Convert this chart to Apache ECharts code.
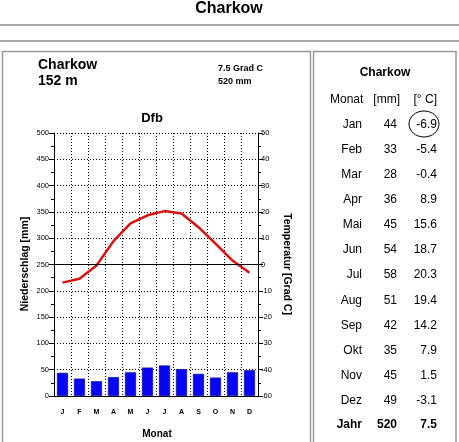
<!DOCTYPE html>
<html lang="de">
<head>
<meta charset="UTF-8"/>
<title>Charkow</title>
<script src="https://cdn.jsdelivr.net/npm/echarts@6/dist/echarts.min.js"></script>
<style>
  html, body { margin: 0; padding: 0; background: #fff; }
  #main { width: 459px; height: 442px; }
</style>
</head>
<body>
<div id="main"></div>
<script>
// Klimadaten Charkow
var station = 'Charkow';
var hoehe = '152 m';
var klima = 'Dfb';
var monatKurz = ['J', 'F', 'M', 'A', 'M', 'J', 'J', 'A', 'S', 'O', 'N', 'D'];
var monatName = ['Jan', 'Feb', 'Mar', 'Apr', 'Mai', 'Jun', 'Jul', 'Aug', 'Sep', 'Okt', 'Nov', 'Dez'];
var niederschlag = [44, 33, 28, 36, 45, 54, 58, 51, 42, 35, 45, 49];
var temperatur = [-6.9, -5.4, -0.4, 8.9, 15.6, 18.7, 20.3, 19.4, 14.2, 7.9, 1.5, -3.1];
var jahrMm = 520;
var jahrTemp = 7.5;

var font = 'Arial, "Liberation Sans", sans-serif';
var chart = echarts.init(document.getElementById('main'));

// Tabelle rechts
var tabelle = [];
function txt(x, y, s, align, size, bold) {
    tabelle.push({
        type: 'text', x: x, y: y,
        style: {
            text: s, fill: '#000', align: align, verticalAlign: 'middle',
            font: (bold ? 'bold ' : '') + size + 'px ' + font
        }
    });
}
txt(385, 73, station, 'center', 12, true);
txt(330, 100, 'Monat', 'left', 12);
txt(400, 100, '[mm]', 'right', 12);
txt(437, 100, '[° C]', 'right', 12);
for (var i = 0; i < monatName.length; i++) {
    var y = 124.5 + i * 25.1;
    txt(362, y, monatName[i], 'right', 12);
    txt(397, y, String(niederschlag[i]), 'right', 12);
    txt(437, y, temperatur[i].toFixed(1), 'right', 12);
}
txt(362, 425, 'Jahr', 'right', 12, true);
txt(397, 425, String(jahrMm), 'right', 12, true);
txt(437, 425, jahrTemp.toFixed(1), 'right', 12, true);

var option = {
    animation: false,
    backgroundColor: '#fff',
    grid: { left: 54, top: 133, width: 204, height: 263, containLabel: false },
    xAxis: {
        type: 'category',
        data: monatKurz,
        boundaryGap: true,
        axisLine: { lineStyle: { color: '#000', width: 1 } },
        axisTick: { show: false },
        axisLabel: { color: '#000', fontSize: 7, fontWeight: 'bold', fontFamily: font, margin: 13, interval: 0 },
        splitLine: { show: true, interval: 0, lineStyle: { color: '#000', type: [1, 2], width: 1 } }
    },
    yAxis: [{
        type: 'value', min: 0, max: 500, interval: 50,
        axisLine: { show: true, lineStyle: { color: '#000' } },
        axisTick: { show: true, length: 5, lineStyle: { color: '#000' } },
        minorTick: { show: true, splitNumber: 2, length: 3, lineStyle: { color: '#000' } },
        axisLabel: { color: '#000', fontSize: 7.5, fontFamily: font, margin: 5 },
        splitLine: { show: true, lineStyle: { color: '#000', type: [1, 2], width: 1 } }
    }, {
        type: 'value', min: -50, max: 50, interval: 10, position: 'right',
        axisLine: { show: true, lineStyle: { color: '#000' } },
        axisTick: { show: true, length: 5, lineStyle: { color: '#000' } },
        minorTick: { show: true, splitNumber: 2, length: 3, lineStyle: { color: '#000' } },
        axisLabel: {
            color: '#000', fontSize: 7.5, fontFamily: font, margin: 3,
            formatter: function (v) { return v === -50 ? '-60' : String(v); }
        },
        splitLine: { show: false }
    }],
    series: [{
        name: 'Niederschlag',
        type: 'bar',
        data: niederschlag,
        barWidth: 11,
        itemStyle: { color: '#0606f2', borderColor: '#00008a', borderWidth: 0.6 },
        z: 3
    }, {
        name: 'Temperatur',
        type: 'line',
        yAxisIndex: 1,
        data: temperatur,
        showSymbol: false,
        symbol: 'none',
        lineStyle: { color: '#dd1111', width: 2.5 },
        markLine: {
            silent: true, symbol: 'none', label: { show: false },
            lineStyle: { color: '#000', type: 'solid', width: 1 },
            data: [{ yAxis: 0 }]
        },
        z: 4
    }],
    graphic: [
        // Kopf
        { type: 'text', x: 229, y: 9, style: { text: station, fill: '#000', align: 'center', verticalAlign: 'middle', font: 'bold 16px ' + font } },
        { type: 'line', shape: { x1: 0, y1: 25, x2: 459, y2: 25 }, style: { stroke: '#8a8a8a', lineWidth: 1.5 } },
        { type: 'line', shape: { x1: 0, y1: 41, x2: 459, y2: 41 }, style: { stroke: '#8a8a8a', lineWidth: 1.5 } },
        // Rahmen
        { type: 'rect', shape: { x: 2.5, y: 51.5, width: 308, height: 400 }, style: { fill: 'none', stroke: '#9a9a9a', lineWidth: 1.5 } },
        { type: 'rect', shape: { x: 313.5, y: 51.5, width: 142.5, height: 400 }, style: { fill: 'none', stroke: '#9a9a9a', lineWidth: 1.5 } },
        // Diagrammkopf
        { type: 'text', x: 38, y: 65, style: { text: station, fill: '#000', verticalAlign: 'middle', font: 'bold 14px ' + font } },
        { type: 'text', x: 38, y: 81, style: { text: hoehe, fill: '#000', verticalAlign: 'middle', font: 'bold 14px ' + font } },
        { type: 'text', x: 218, y: 69, style: { text: jahrTemp.toFixed(1) + ' Grad C', fill: '#000', verticalAlign: 'middle', font: 'bold 9px ' + font } },
        { type: 'text', x: 218, y: 82, style: { text: jahrMm + ' mm', fill: '#000', verticalAlign: 'middle', font: 'bold 9px ' + font } },
        { type: 'text', x: 152, y: 118, style: { text: klima, fill: '#000', align: 'center', verticalAlign: 'middle', font: 'bold 13px ' + font } },
        // Achsentitel
        { type: 'text', x: 25, y: 264, rotation: Math.PI / 2, style: { text: 'Niederschlag [mm]', fill: '#000', align: 'center', verticalAlign: 'middle', font: 'bold 10.5px ' + font } },
        { type: 'text', x: 287, y: 264, rotation: -Math.PI / 2, style: { text: 'Temperatur [Grad C]', fill: '#000', align: 'center', verticalAlign: 'middle', font: 'bold 10.5px ' + font } },
        { type: 'text', x: 157, y: 434, style: { text: 'Monat', fill: '#000', align: 'center', verticalAlign: 'middle', font: 'bold 10px ' + font } },
        // Markierung Januar
        { type: 'ellipse', shape: { cx: 424, cy: 124, rx: 15, ry: 13 }, style: { fill: 'none', stroke: '#000', lineWidth: 1 } }
    ].concat(tabelle)
};

chart.setOption(option);
</script>
</body>
</html>
